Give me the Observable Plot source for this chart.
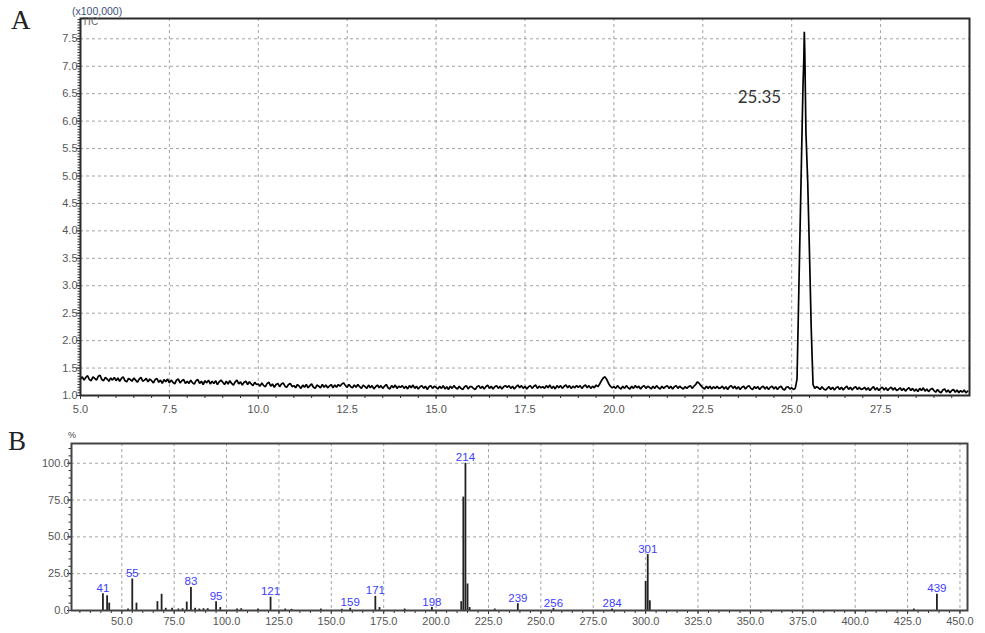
<!DOCTYPE html>
<html><head><meta charset="utf-8">
<script src="https://cdn.jsdelivr.net/npm/d3@7"></script>
<script src="https://cdn.jsdelivr.net/npm/@observablehq/plot@0.6"></script>
<style>
html,body{margin:0;padding:0;background:#fff}
body{width:985px;height:633px;position:relative;overflow:hidden;font-family:"Liberation Sans",Arial,sans-serif}
#a{position:absolute;left:0;top:0}
#b{position:absolute;left:0;top:420px}
.panel{position:absolute;font-family:"Liberation Serif","Times New Roman",serif;font-size:27px;line-height:27px;color:#222}
.small{position:absolute;line-height:1;white-space:nowrap}
</style></head><body>
<div id="a"></div><div id="b"></div>
<div class="panel" style="left:11px;top:7px">A</div>
<div class="panel" style="left:8px;top:428px">B</div>
<div class="small" style="left:72px;top:6px;font-size:10.5px;color:#3c4f7a">(x100,000)</div>
<div class="small" style="left:82px;top:16.5px;font-size:10px;color:#666">TIC</div>
<div class="small" style="left:68px;top:431px;font-size:9px;color:#444">%</div>
<script>
// ---------- Panel A: total ion chromatogram (x100,000) ----------
const ticStart = 5.0;
const ticStep = 0.05;
const ticValues = [
  // 5.00 - 5.95
  1.30,1.34,1.28,1.33,1.36,1.29,1.27,1.34,1.31,1.28,1.35,1.37,1.29,1.27,1.33,1.30,1.26,1.32,1.28,1.33,
  // 6
  1.27,1.32,1.26,1.31,1.34,1.27,1.25,1.31,1.29,1.26,1.32,1.28,1.24,1.30,1.33,1.26,1.28,1.31,1.25,1.30,
  // 7
  1.27,1.23,1.29,1.31,1.24,1.28,1.22,1.29,1.25,1.30,1.23,1.28,1.24,1.21,1.28,1.30,1.23,1.27,1.29,1.22,
  // 8
  1.26,1.22,1.28,1.23,1.21,1.27,1.29,1.22,1.26,1.20,1.27,1.23,1.28,1.21,1.26,1.22,1.27,1.20,1.25,1.28,
  // 9
  1.24,1.20,1.26,1.21,1.27,1.22,1.19,1.25,1.28,1.21,1.25,1.19,1.24,1.26,1.20,1.25,1.21,1.18,1.24,1.20,
  // 10
  1.21,1.17,1.23,1.18,1.16,1.22,1.24,1.17,1.21,1.15,1.20,1.22,1.16,1.21,1.23,1.17,1.15,1.20,1.22,1.16,
  // 11
  1.18,1.14,1.20,1.17,1.13,1.19,1.15,1.20,1.14,1.18,1.21,1.15,1.13,1.19,1.17,1.14,1.20,1.15,1.19,1.14,
  // 12
  1.17,1.20,1.14,1.19,1.15,1.20,1.17,1.21,1.23,1.18,1.15,1.20,1.16,1.14,1.19,1.15,1.20,1.16,1.13,1.19,
  // 13
  1.16,1.13,1.19,1.14,1.18,1.12,1.16,1.19,1.14,1.18,1.13,1.17,1.20,1.14,1.12,1.18,1.14,1.19,1.13,1.17,
  // 14
  1.15,1.18,1.13,1.17,1.12,1.18,1.14,1.19,1.13,1.17,1.12,1.16,1.18,1.13,1.17,1.11,1.16,1.18,1.13,1.17,
  // 15
  1.15,1.12,1.17,1.13,1.18,1.12,1.16,1.11,1.17,1.13,1.18,1.14,1.12,1.17,1.13,1.11,1.16,1.18,1.12,1.16,
  // 16
  1.16,1.13,1.11,1.16,1.18,1.13,1.17,1.12,1.16,1.19,1.13,1.17,1.12,1.16,1.18,1.13,1.17,1.12,1.16,1.18,
  // 17
  1.15,1.18,1.13,1.17,1.12,1.16,1.19,1.14,1.18,1.13,1.17,1.12,1.16,1.18,1.13,1.17,1.19,1.13,1.17,1.14,
  // 18
  1.16,1.13,1.18,1.14,1.19,1.13,1.17,1.12,1.18,1.14,1.18,1.13,1.17,1.19,1.14,1.18,1.13,1.17,1.14,1.18,
  // 19
  1.15,1.18,1.13,1.17,1.19,1.14,1.18,1.13,1.17,1.14,1.19,1.16,1.21,1.27,1.32,1.34,1.29,1.22,1.17,1.14,
  // 20
  1.16,1.13,1.18,1.14,1.12,1.17,1.13,1.18,1.14,1.12,1.17,1.13,1.18,1.14,1.17,1.12,1.16,1.18,1.13,1.17,
  // 21
  1.15,1.12,1.17,1.13,1.18,1.14,1.12,1.17,1.13,1.16,1.18,1.13,1.17,1.12,1.16,1.18,1.13,1.17,1.14,1.12,
  // 22
  1.16,1.13,1.16,1.18,1.13,1.17,1.20,1.25,1.22,1.18,1.14,1.12,1.17,1.13,1.17,1.12,1.16,1.13,1.17,1.13,
  // 23
  1.14,1.17,1.12,1.16,1.11,1.16,1.18,1.13,1.17,1.12,1.16,1.11,1.15,1.17,1.12,1.16,1.18,1.13,1.11,1.16,
  // 24
  1.13,1.16,1.11,1.15,1.17,1.12,1.16,1.11,1.15,1.17,1.12,1.16,1.11,1.15,1.17,1.12,1.10,1.15,1.16,1.12,
  // 25
  1.14,1.11,1.16,1.12,1.15,1.17,1.14,1.12,1.15,1.13,1.14,1.12,1.15,1.13,1.16,1.14,1.11,1.16,1.12,1.10,
  // 26
  1.13,1.16,1.11,1.15,1.10,1.14,1.16,1.11,1.15,1.10,1.14,1.17,1.11,1.15,1.10,1.14,1.16,1.11,1.15,1.11,
  // 27
  1.12,1.15,1.10,1.14,1.09,1.13,1.16,1.10,1.14,1.09,1.13,1.15,1.10,1.14,1.09,1.13,1.15,1.10,1.14,1.09,
  // 28
  1.11,1.14,1.09,1.13,1.08,1.12,1.14,1.09,1.13,1.08,1.12,1.07,1.13,1.09,1.14,1.08,1.12,1.07,1.11,1.13,
  // 29
  1.09,1.06,1.11,1.07,1.05,1.10,1.12,1.06,1.10,1.05,1.09,1.11,1.06,1.10,1.05,1.09,1.06,1.10,1.05,1.08
];
const peakTimes  = [25.10,25.15,25.20,25.25,25.30,25.32,25.34,25.355,25.37,25.40,25.45,25.50,25.55,25.60,25.65];
const peakValues = [1.13, 1.30, 2.90, 4.50, 6.10, 6.70, 7.10, 7.63,  7.20, 5.80, 4.90, 3.60, 2.20, 1.20, 1.13];
const peakLabelText = "25.35";
const peakLabelTime = 25.35;
const peakLabelLevel = 6.43;
const xTicksA = [5.0, 7.5, 10.0, 12.5, 15.0, 17.5, 20.0, 22.5, 25.0, 27.5];
const yTicksA = [1.0, 1.5, 2.0, 2.5, 3.0, 3.5, 4.0, 4.5, 5.0, 5.5, 6.0, 6.5, 7.0, 7.5];

// ---------- Panel B: mass spectrum ----------
const mzValues     = [41,  43, 44, 53, 55,  57, 67, 69, 71,  74,  77, 79,  81,  83,  85,  87, 89,  91, 95, 97, 105, 107, 115, 121, 128, 131, 145, 155, 159, 171, 173, 185, 198, 212, 213, 214, 215, 216, 228, 239, 256, 284, 300,  301, 302, 428, 439];
const relIntensity = [11.4,10, 5,  1,  21.4,5,  6,  11, 1.5, 1.5, 1,  1.2, 5.7, 15.7, 1.5, 1,  1.2, 1.2, 6,  2,  1,   1.2, 1,   9,   1,   0.8, 1,   0.8, 1.5, 9.6, 2,   1,   2,   6,   77,  100, 18,  2,   1,   4.6, 1.3, 1,   19.8, 38,  6.6, 1,   11];
const labeledMz = [41, 55, 83, 95, 121, 159, 171, 198, 214, 239, 256, 284, 301, 439];
const xTicksB = [50, 75, 100, 125, 150, 175, 200, 225, 250, 275, 300, 325, 350, 375, 400, 425, 450];
const yTicksB = [0, 25, 50, 75, 100];

// ---------- build ----------
const baseline = ticValues.map((v, i) => ({t: +(ticStart + i * ticStep).toFixed(3), v}));
const peak = peakTimes.map((t, i) => ({t, v: peakValues[i]}));
const tic = baseline
  .filter(d => d.t < peakTimes[0] || d.t > peakTimes[peakTimes.length - 1])
  .concat(peak)
  .sort((a, b) => a.t - b.t);

const spectrum = mzValues.map((mz, i) => ({mz, i: relIntensity[i]}));
const labeled = spectrum.filter(d => labeledMz.includes(d.mz));

const gridStyle = {stroke: "#9a9a9a", strokeOpacity: 0.9, strokeDasharray: "3,3", strokeWidth: 1};
const fontFamily = "'Liberation Sans', Arial, sans-serif";

const xMinorA = d3.range(5, 29.99, 0.5);
const yMinorA = d3.range(1, 7.86, 0.05);

const chartA = Plot.plot({
  width: 985, height: 420,
  marginLeft: 80, marginRight: 16, marginTop: 18, marginBottom: 25,
  x: {domain: [5, 30], label: null},
  y: {domain: [1, 7.87], label: null},
  style: {fontFamily, fontSize: "11px", color: "#555", background: "transparent", overflow: "visible"},
  marks: [
    Plot.gridX(xTicksA.slice(1), gridStyle),
    Plot.gridY(yTicksA.slice(1), gridStyle),
    Plot.axisX(xMinorA, {tickSize: 3, stroke: "#333", fill: "none", label: null}),
    Plot.axisX(xTicksA, {tickSize: 4, tickPadding: 6, stroke: "#333", fill: "#555", tickFormat: d => d.toFixed(1), label: null}),
    Plot.axisY(yMinorA, {tickSize: 2.5, stroke: "#333", fill: "none", label: null}),
    Plot.axisY(yTicksA, {tickSize: 4, tickPadding: -1, stroke: "#333", fill: "#555", tickFormat: d => d.toFixed(1), label: null}),
    Plot.line(tic, {x: "t", y: "v", stroke: "#000", strokeWidth: 1.7, strokeLinejoin: "miter"}),
    Plot.text([{t: peakLabelTime, v: peakLabelLevel, s: peakLabelText}], {
      x: "t", y: "v", text: "s", textAnchor: "end", dx: -23,
      fontSize: 17, fontFamily: "Lato, 'Open Sans', sans-serif", fill: "#333"
    }),
    Plot.frame({stroke: "#2a2a2a", strokeWidth: 2})
  ]
});
document.getElementById("a").append(chartA);

const xMinorB = d3.range(30, 453, 5);
const yMinorB = d3.range(0, 113, 5);

const chartB = Plot.plot({
  width: 985, height: 213,
  marginLeft: 71, marginRight: 18, marginTop: 23, marginBottom: 23,
  x: {domain: [26, 453.6], label: null},
  y: {domain: [0, 113.4], label: null},
  style: {fontFamily, fontSize: "11px", color: "#555", background: "transparent", overflow: "visible"},
  marks: [
    Plot.gridX(xTicksB, gridStyle),
    Plot.gridY(yTicksB.slice(1), gridStyle),
    Plot.axisX(xMinorB, {tickSize: 3, stroke: "#333", fill: "none", label: null}),
    Plot.axisX(xTicksB, {tickSize: 4, tickPadding: 3, stroke: "#333", fill: "#555", tickFormat: d => d.toFixed(1), label: null}),
    Plot.axisY(yMinorB, {tickSize: 2.5, stroke: "#333", fill: "none", label: null}),
    Plot.axisY(yTicksB, {tickSize: 4, tickPadding: -2, stroke: "#333", fill: "#555", tickFormat: d => d.toFixed(1), label: null}),
    Plot.ruleX(spectrum, {x: "mz", y1: 0, y2: "i", stroke: "#222", strokeWidth: 1.8}),
    Plot.text(labeled, {
      x: "mz", y: "i", text: d => String(d.mz), lineAnchor: "bottom", dy: -2,
      fill: "#3d3dff", fontSize: 11.5
    }),
    Plot.frame({stroke: "#444", strokeWidth: 2})
  ]
});
document.getElementById("b").append(chartB);
</script>
</body></html>
